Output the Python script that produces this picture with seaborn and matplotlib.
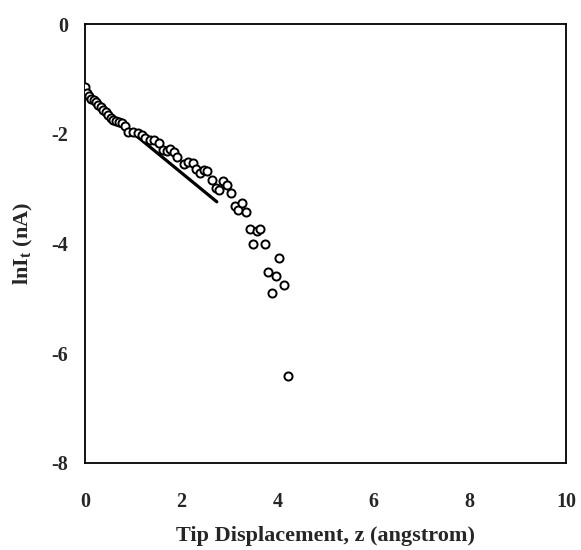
import matplotlib
matplotlib.use("Agg")
import matplotlib.pyplot as plt
import seaborn as sns
import pandas as pd

# Data
z = [0.00, 0.04, 0.08, 0.13, 0.18, 0.23, 0.28, 0.33, 0.38, 0.43, 0.48, 0.54,
     0.59, 0.65, 0.70, 0.76, 0.83, 0.90, 1.00, 1.11, 1.18, 1.25, 1.35, 1.43,
     1.54, 1.63, 1.70, 1.77, 1.85, 1.92, 2.06, 2.15, 2.24, 2.31, 2.40, 2.47,
     2.54, 2.65, 2.72, 2.79, 2.86, 2.95, 3.03, 3.12, 3.19, 3.26, 3.34, 3.42,
     3.49, 3.58, 3.64, 3.74, 3.81, 3.89, 3.98, 4.04, 4.14, 4.21]
ln_it = [-1.15, -1.26, -1.32, -1.36, -1.38, -1.43, -1.47, -1.51, -1.56, -1.61,
         -1.65, -1.72, -1.75, -1.77, -1.79, -1.80, -1.85, -1.96, -1.96, -1.98,
         -2.03, -2.08, -2.12, -2.11, -2.16, -2.30, -2.31, -2.28, -2.34, -2.43,
         -2.55, -2.51, -2.54, -2.65, -2.72, -2.66, -2.68, -2.85, -2.99, -3.02,
         -2.87, -2.93, -3.08, -3.31, -3.39, -3.27, -3.42, -3.74, -4.00, -3.77,
         -3.74, -4.01, -4.52, -4.91, -4.60, -4.27, -4.75, -6.42]
fit_z = [0.0, 2.74]
fit_y = [-1.27, -3.24]

x_ticks = [0, 2, 4, 6, 8, 10]
y_ticks = [-8, -6, -4, -2, 0]

sns.set_style("white")
plt.rcParams["font.family"] = ["Liberation Serif", "DejaVu Serif"]
plt.rcParams["font.weight"] = "bold"
plt.rcParams["mathtext.fontset"] = "custom"
plt.rcParams["mathtext.rm"] = "Liberation Serif:bold"
plt.rcParams["mathtext.it"] = "Liberation Serif:bold"
plt.rcParams["mathtext.bf"] = "Liberation Serif:bold"

df = pd.DataFrame({"z": z, "lnIt": ln_it})
fit = pd.DataFrame({"z": fit_z, "y": fit_y})

fig = plt.figure(figsize=(5.81, 5.5), dpi=100)
ax = fig.add_axes([85 / 581, 1 - 463 / 550, (566 - 85) / 581, (463 - 24) / 550])

sns.lineplot(data=fit, x="z", y="y", ax=ax, color="black", linewidth=2.3, zorder=2)
sns.scatterplot(data=df, x="z", y="lnIt", ax=ax, marker="o", s=34,
                facecolor="white", edgecolor="black", linewidth=1.4, zorder=3)

ax.set_xlim(0, 10)
ax.set_ylim(-8, 0)
ax.set_xticks(x_ticks)
ax.set_yticks(y_ticks)
ax.set_xticklabels([str(t) for t in x_ticks], fontsize=14.5, fontweight="bold")
ax.set_yticklabels([str(t) for t in y_ticks], fontsize=14.5, fontweight="bold")
ax.tick_params(axis="x", direction="in", length=4, width=0.6, color="#999999", pad=21)
ax.tick_params(axis="y", direction="in", length=4, width=0.6, color="#999999", pad=12)

for s in ax.spines.values():
    s.set_visible(True)
    s.set_color("black")
    s.set_linewidth(1.3)

ax.set_xlabel("Tip Displacement, z (angstrom)", fontsize=16, fontweight="bold", labelpad=10)
ax.set_ylabel(r"lnI$_{\mathrm{t}}$ (nA)", fontsize=16, fontweight="bold", labelpad=12)

fig.savefig("out.png", dpi=100)
